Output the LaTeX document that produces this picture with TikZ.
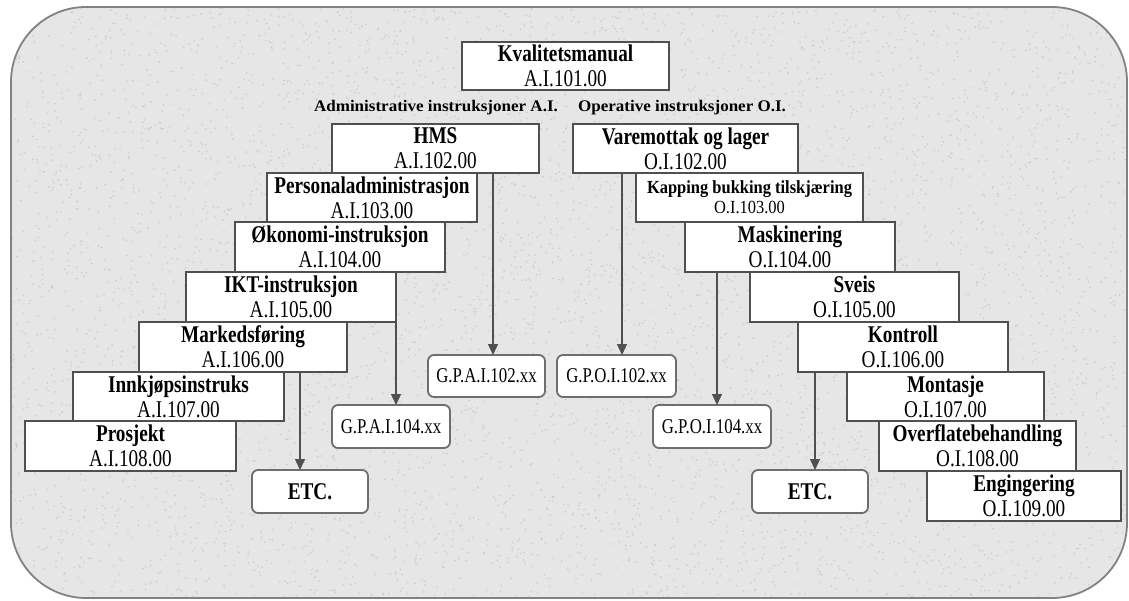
\documentclass[tikz,border=0pt]{standalone}
\usepackage{fontspec}
\setmainfont{Liberation Serif}
\newfontfamily\boxfont{Liberation Serif}[FakeStretch=0.8]
\newfontfamily\kapfont{Liberation Serif}[FakeStretch=0.89]
\newfontfamily\hdfont{Liberation Serif}[FakeStretch=1.05]
\usetikzlibrary{arrows.meta}
\definecolor{bgfill}{RGB}{230,230,230}
\definecolor{speck}{RGB}{205,205,205}
\definecolor{bordergray}{RGB}{130,130,130}
\definecolor{boxline}{RGB}{80,80,80}
\definecolor{gpline}{RGB}{110,110,110}
\tikzset{
  inst/.style={draw=boxline, fill=white, line width=1.3pt, align=center, inner sep=0pt, outer sep=0pt,
    font=\boxfont\fontsize{24}{25}\selectfont},
  smallinst/.style={inst, font=\kapfont\fontsize{18.5}{20}\selectfont},
  gpbox/.style={draw=gpline, fill=white, line width=1.8pt, rounded corners=6pt, align=center, inner sep=0pt,
    outer sep=0pt, minimum width=118pt, minimum height=43pt, font=\boxfont\fontsize{21}{23}\selectfont},
  etcbox/.style={gpbox, minimum width=116pt, font=\boxfont\fontsize{24}{25}\selectfont\bfseries},
  header/.style={font=\hdfont\fontsize{16.2}{18}\selectfont\bfseries, inner sep=0pt},
  arr/.style={draw=boxline, line width=1.3pt, -{Triangle[width=10pt,length=11pt]}},
}
\begin{document}
\begin{tikzpicture}[x=1pt,y=-1pt]
\useasboundingbox (0,0) rectangle (1129,601);
% background panel
\path[fill=bgfill] (11,7) [rounded corners=75pt] rectangle (1127,598);
\begin{scope}
  \clip (11,7) [rounded corners=75pt] rectangle (1127,598);
  \pgfmathsetseed{7}
  \foreach \i in {1,...,6000}{
    \pgfmathsetmacro{\px}{11+1116*rnd}
    \pgfmathsetmacro{\py}{7+591*rnd}
    \fill[speck] (\px,\py) circle (0.9pt);
  }
\end{scope}
\draw[bordergray, line width=1.8pt] (11,7) [rounded corners=75pt] rectangle (1127,598);

% top
\node[inst, minimum width=207pt, minimum height=48pt] (kval) at (565.5,66) {\textbf{Kvalitetsmanual}\\A.I.101.00};
\node[header] (hadm) at (436,108) {Administrative instruksjoner A.I.};
\node[header] (hop) at (682,108) {Operative instruksjoner O.I.};

% left column
\node[inst, minimum width=207pt, minimum height=49pt] (hms) at (435.5,148.5) {\textbf{HMS}\\A.I.102.00};
\node[inst, minimum width=210pt, minimum height=49pt] (pers) at (372,197.5) {\textbf{Personaladministrasjon}\\A.I.103.00};
\node[inst, minimum width=210pt, minimum height=50pt] (oko) at (340,247) {\textbf{Økonomi-instruksjon}\\A.I.104.00};
\node[inst, minimum width=210pt, minimum height=50pt] (ikt) at (291,297) {\textbf{IKT-instruksjon}\\A.I.105.00};
\node[inst, minimum width=208pt, minimum height=50pt] (mark) at (243,347) {\textbf{Markedsføring}\\A.I.106.00};
\node[inst, minimum width=211pt, minimum height=49pt] (innk) at (178.5,396.5) {\textbf{Innkjøpsinstruks}\\A.I.107.00};
\node[inst, minimum width=211pt, minimum height=50pt] (pros) at (130.5,446) {\textbf{Prosjekt}\\A.I.108.00};

\node[gpbox, minimum width=117pt, minimum height=42pt] (gpa102) at (486.5,376) {G.P.A.I.102.xx};
\node[gpbox] (gpa104) at (391,426.5) {G.P.A.I.104.xx};
\node[etcbox] (etcl) at (310,491.5) {ETC.};

% right column
\node[inst, minimum width=225pt, minimum height=49pt] (vare) at (685.5,148.5) {\textbf{Varemottak og lager}\\O.I.102.00};
\node[smallinst, minimum width=227pt, minimum height=49pt] (kapp) at (749.5,197.5) {\textbf{Kapping bukking tilskjæring}\\O.I.103.00};
\node[inst, minimum width=210pt, minimum height=50pt] (mask) at (790,247) {\textbf{Maskinering}\\O.I.104.00};
\node[inst, minimum width=209pt, minimum height=50pt] (sveis) at (854.5,297) {\textbf{Sveis}\\O.I.105.00};
\node[inst, minimum width=210pt, minimum height=50pt] (kont) at (903,347) {\textbf{Kontroll}\\O.I.106.00};
\node[inst, minimum width=197pt, minimum height=49pt] (mont) at (945.5,396.5) {\textbf{Montasje}\\O.I.107.00};
\node[inst, minimum width=197pt, minimum height=50pt] (over) at (977.5,446) {\textbf{Overflatebehandling}\\O.I.108.00};
\node[inst, minimum width=194pt, minimum height=50pt] (eng) at (1024,496) {\textbf{Engingering}\\O.I.109.00};

\node[gpbox, minimum width=119pt, minimum height=42pt] (gpo102) at (616.5,376) {G.P.O.I.102.xx};
\node[gpbox] (gpo104) at (712,426.5) {G.P.O.I.104.xx};
\node[etcbox] (etcr) at (810,491.5) {ETC.};

% arrow columns
\coordinate (xa102) at (493,0);
\coordinate (xa104) at (396,0);
\coordinate (xaetc) at (300,0);
\coordinate (xo102) at (622,0);
\coordinate (xo104) at (717,0);
\coordinate (xoetc) at (815,0);

\draw[arr] (hms.south -| xa102) -- (gpa102.north -| xa102);
\draw[arr] (oko.south -| xa104) -- (gpa104.north -| xa104);
\draw[arr] (mark.south -| xaetc) -- (etcl.north -| xaetc);
\draw[arr] (vare.south -| xo102) -- (gpo102.north -| xo102);
\draw[arr] (mask.south -| xo104) -- (gpo104.north -| xo104);
\draw[arr] (kont.south -| xoetc) -- (etcr.north -| xoetc);
\end{tikzpicture}
\end{document}
